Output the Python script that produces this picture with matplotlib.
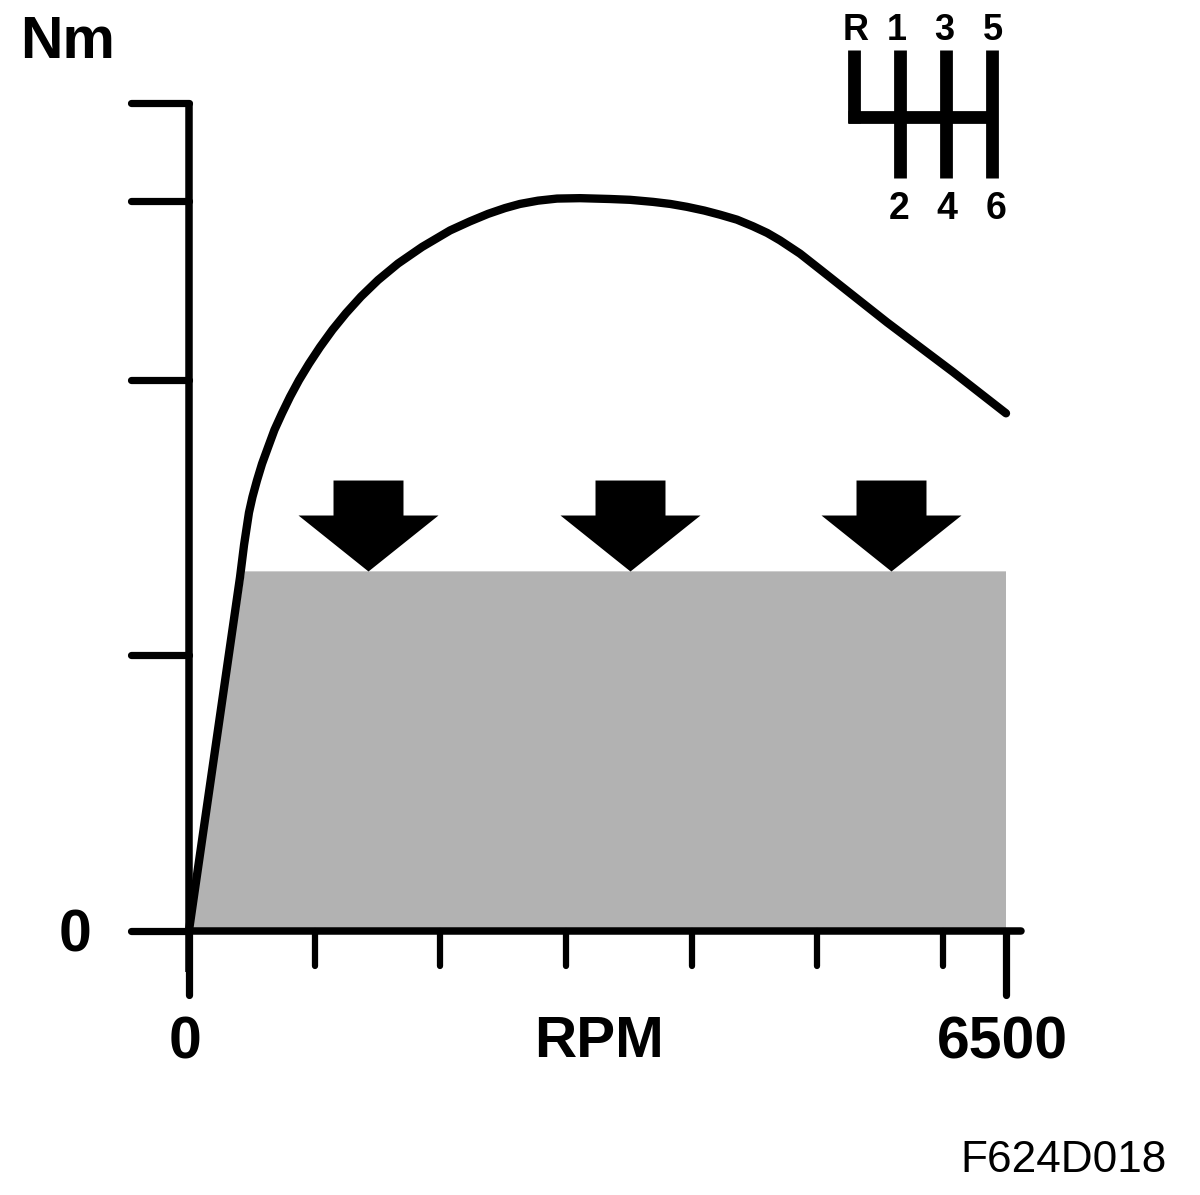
import matplotlib
matplotlib.use("Agg")
import matplotlib.pyplot as plt
from matplotlib.markers import MarkerStyle, TICKDOWN, TICKLEFT
from matplotlib.path import Path
from matplotlib.transforms import ScaledTranslation

plt.rcParams['font.family'] = ['Liberation Sans', 'DejaVu Sans']

# Torque curve (relative torque vs RPM)
curve_rpm = [0, 406, 438, 477, 505, 541, 581, 629, 680, 740, 804, 875, 955, 1042, 1142, 1249, 1368, 1504,
             1663, 1854, 2077, 2236, 2379, 2514, 2633, 2777, 2928, 3111, 3349, 3509, 3692, 3830, 3962, 4100, 4225, 4360, 4487,
             4600, 4702, 4861, 5020, 5553, 6078, 6500]
curve_torque = [0, 42.7, 46.6, 50.5, 52.4, 54.4, 56.4, 58.4, 60.5, 62.5, 64.5, 66.5, 68.5, 70.5, 72.6, 74.6, 76.6, 78.6,
                80.6, 82.6, 84.6, 85.7, 86.6, 87.3, 87.8, 88.2, 88.45, 88.5, 88.4, 88.3, 88.05, 87.8, 87.45, 87.0, 86.5, 85.9, 85.1,
                84.3, 83.4, 81.8, 79.9, 73.5, 67.5, 62.5]

# Limited-torque region
area_rpm = [0, 445, 6500, 6500]
area_torque = [0, 43.4, 43.4, 0]

# Arrows pointing down on the limit
arrow_rpm = [1424, 3509, 5585]
arrow_torque = [43.5, 43.5, 43.5]

xticks_major = [0, 6500]
xticks_major_labels = ['0', '6500']
xticks_minor = [1000, 2000, 3000, 4000, 5000, 6000]
yticks = [0, 33.3, 66.5, 88.1, 100]
yticks_labels = ['0', '', '', '', '']

# Gear-shift pattern
gear_top = ['R', '1', '3', '5']
gear_bottom = ['2', '4', '6']

W, H = 1200, 1195
fig = plt.figure(figsize=(W / 100, H / 100), dpi=100)
ax = fig.add_axes([189 / W, (H - 930.5) / H, (1006 - 189) / W, (930.5 - 103) / H])
ax.set_xlim(0, 6500)
ax.set_ylim(0, 100)
ax.patch.set_alpha(0)

ax.fill(area_rpm, area_torque, color='#b2b2b2', lw=0, zorder=1)
ax.plot(curve_rpm, curve_torque, color='black', lw=6, solid_capstyle='round',
        solid_joinstyle='round', clip_on=False, zorder=3)

head = [(0, 0), (-70, 56), (-35, 56), (-35, 91), (35, 91), (35, 56), (70, 56), (0, 0)]
marker = Path(head, closed=True)
ax.plot(arrow_rpm, arrow_torque, ls='none', marker=marker, ms=131, mfc='black', mew=0, zorder=2, clip_on=False)

for s in ('top', 'right'):
    ax.spines[s].set_visible(False)
for s in ('left', 'bottom'):
    ax.spines[s].set_linewidth(5.4)
    ax.spines[s].set_capstyle('butt')
    ax.spines[s].set_zorder(4)
ax.spines['left'].set_bounds(-5, 100)
ax.spines['bottom'].set_bounds(0, 6620)
ax.spines['bottom'].set_capstyle('round')

ax.set_xticks(xticks_major)
ax.set_xticklabels(xticks_major_labels, fontsize=42.5, fontweight='bold')
ax.set_xticks(xticks_minor, minor=True)
ax.tick_params(axis='x', which='major', length=46, width=5.2, pad=15)
ax.tick_params(axis='x', which='minor', length=25, width=4.5)
ax.set_yticks(yticks)
ax.set_yticklabels(yticks_labels, fontsize=42.5, fontweight='bold')
ax.tick_params(axis='y', length=42, width=5.2, pad=28)
off = ScaledTranslation(-2.7 / 72, 0, fig.dpi_scale_trans)
for lab in ax.get_xticklabels():
    lab.set_transform(lab.get_transform() + off)
for t in ax.xaxis.get_major_ticks() + ax.xaxis.get_minor_ticks():
    t.tick1line.set_marker(MarkerStyle(TICKDOWN, capstyle='round'))
for t in ax.yaxis.get_major_ticks():
    t.tick1line.set_marker(MarkerStyle(TICKLEFT, capstyle='round'))

ax.text(3264, -13.5, 'RPM', fontsize=42, fontweight='bold', ha='center', va='center')
fig.text(68 / W, 1 - 43 / H, 'Nm', fontsize=42.4, fontweight='bold', ha='center', va='center')
fig.text(1064 / W, 1 - 1160 / H, 'F624D018', fontsize=31.8, ha='center', va='center')

# Gear pattern in its own axes, columns 0-3, horizontal gate at y = 0
gx = fig.add_axes([854 / W, (H - 178) / H, (992 - 854) / W, (178 - 50) / H])
gx.set_xlim(0, 3)
gx.set_ylim(-1, 1.098)
gx.axis('off')
lw_g = 9.2
for col, bottom in zip(range(4), [-0.1, -1, -1, -1]):
    gx.plot([col, col], [1.098, bottom], color='black', lw=lw_g, clip_on=False, solid_capstyle='butt')
gx.plot([-0.13, 3], [0, 0], color='black', lw=lw_g, clip_on=False, solid_capstyle='butt')
for col, t in enumerate(gear_top):
    gx.text(col + [0.04, -0.06, -0.04, 0.02][col], 1.41, t, fontsize=26, fontweight='bold', ha='center', va='center')
for col, t in zip([1, 2, 3], gear_bottom):
    gx.text(col + [-0.02, 0.02, 0.08][col - 1], -1.50, t, fontsize=27, fontweight='bold', ha='center', va='center')

fig.savefig('out.png', dpi=100, facecolor='white')
